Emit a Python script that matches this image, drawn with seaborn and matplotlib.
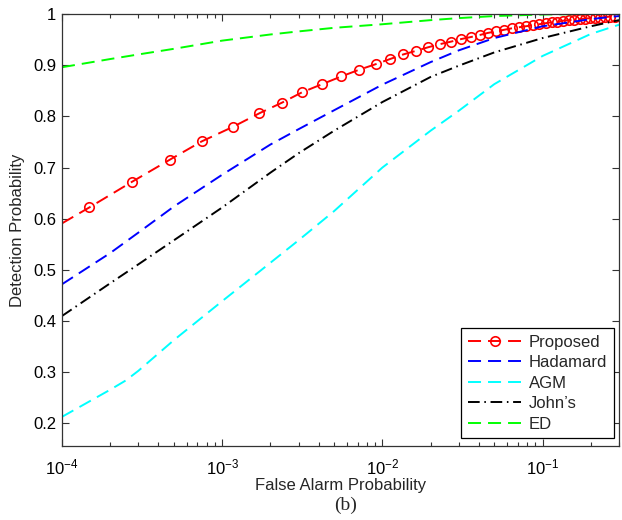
import numpy as np
import pandas as pd
import matplotlib
matplotlib.use("Agg")
import matplotlib.pyplot as plt
import seaborn as sns

# ---------------- data ----------------
pfa_grid = [1e-4, 2e-4, 3e-4, 5e-4, 1e-3, 2e-3, 3e-3, 5e-3, 1e-2, 2e-2, 3e-2, 5e-2, 1e-1, 2e-1, 3e-1]
pd_hadamard = [0.472, 0.533, 0.573, 0.624, 0.686, 0.745, 0.775, 0.812, 0.862, 0.906, 0.929, 0.953, 0.976, 0.990, 0.996]
pd_johns = [0.410, 0.474, 0.511, 0.558, 0.622, 0.690, 0.728, 0.772, 0.828, 0.877, 0.899, 0.925, 0.953, 0.976, 0.988]
pd_ed = [0.896, 0.912, 0.921, 0.932, 0.948, 0.960, 0.966, 0.973, 0.980, 0.988, 0.992, 0.996, 0.999, 1.0, 1.0]

pfa_agm = [1e-4, 2e-4, 2.5e-4, 3e-4, 5e-4, 1e-3, 2e-3, 3e-3, 5e-3, 1e-2, 2e-2, 3e-2, 5e-2, 1e-1, 2e-1, 3e-1]
pd_agm = [0.213, 0.266, 0.284, 0.303, 0.363, 0.439, 0.514, 0.558, 0.615, 0.700, 0.772, 0.811, 0.863, 0.918, 0.961, 0.979]

pfa_prop = [1.0e-4, 1.48e-4, 2.73e-4, 4.69e-4, 7.44e-4, 1.175e-3, 1.705e-3, 2.37e-3, 3.15e-3, 4.21e-3,
            5.54e-3, 7.14e-3, 9.09e-3, 0.01116, 0.0135, 0.0162, 0.0193, 0.0228, 0.0268, 0.0310,
            0.0357, 0.0406, 0.0455, 0.0511, 0.0572, 0.0642, 0.0709, 0.0784, 0.0867, 0.0951,
            0.1044, 0.1137, 0.1239, 0.1350, 0.1461, 0.1580, 0.1710, 0.1850, 0.1987, 0.2134,
            0.2292, 0.2462, 0.2645, 0.2840]
pd_prop = [0.591, 0.622, 0.672, 0.715, 0.751, 0.780, 0.806, 0.827, 0.847, 0.863,
           0.878, 0.891, 0.902, 0.912, 0.921, 0.928, 0.935, 0.941, 0.946, 0.951,
           0.955, 0.959, 0.963, 0.966, 0.969, 0.972, 0.974, 0.976, 0.978, 0.980,
           0.982, 0.984, 0.985, 0.987, 0.988, 0.989, 0.990, 0.991, 0.992, 0.993,
           0.993, 0.994, 0.995, 0.995]

labels = ["Proposed", "Hadamard", "AGM", "John\u2019s", "ED"]
x_ticks = [1e-4, 1e-3, 1e-2, 1e-1]
x_tick_labels = ["$\\mathregular{10^{-4}}$", "$\\mathregular{10^{-3}}$",
                 "$\\mathregular{10^{-2}}$", "$\\mathregular{10^{-1}}$"]
y_ticks = [0.2, 0.3, 0.4, 0.5, 0.6, 0.7, 0.8, 0.9, 1.0]
y_tick_labels = ["0.2", "0.3", "0.4", "0.5", "0.6", "0.7", "0.8", "0.9", "1"]

# ---------------- style ----------------
sns.set_style("white")
plt.rcParams["font.family"] = ["Liberation Sans", "DejaVu Sans"]
plt.rcParams["mathtext.fontset"] = "custom"
plt.rcParams["mathtext.rm"] = "Liberation Sans"
plt.rcParams["mathtext.it"] = "Liberation Sans:italic"
plt.rcParams["mathtext.bf"] = "Liberation Sans:bold"

fig = plt.figure(figsize=(6.22, 5.20), dpi=100)
ax = fig.add_axes([62 / 622, 1 - 446 / 520, (619 - 62) / 622, (446 - 14) / 520])
ax.set_xscale("log")

lw = 1.4
dash = (6.7, 3.6)
dashdot = (6.0, 2.4, 0.8, 2.4)

df_prop = pd.DataFrame({"x": pfa_prop, "y": pd_prop})
sns.lineplot(data=df_prop, x="x", y="y", ax=ax, color="#ff0000", lw=lw, label=labels[0],
             estimator=None, sort=False, marker="o", markevery=list(range(1, len(pfa_prop))),
             markersize=6.8, markerfacecolor="none", markeredgecolor="#ff0000", markeredgewidth=1.2)
ax.lines[-1].set_dashes(dash)

df_had = pd.DataFrame({"x": pfa_grid, "y": pd_hadamard})
sns.lineplot(data=df_had, x="x", y="y", ax=ax, color="#0000ff", lw=lw, label=labels[1],
             estimator=None, sort=False)
ax.lines[-1].set_dashes(dash)

df_agm = pd.DataFrame({"x": pfa_agm, "y": pd_agm})
sns.lineplot(data=df_agm, x="x", y="y", ax=ax, color="#00ffff", lw=lw, label=labels[2],
             estimator=None, sort=False)
ax.lines[-1].set_dashes(dash)

df_john = pd.DataFrame({"x": pfa_grid, "y": pd_johns})
sns.lineplot(data=df_john, x="x", y="y", ax=ax, color="#000000", lw=lw, label=labels[3],
             estimator=None, sort=False)
ax.lines[-1].set_dashes(dashdot)

df_ed = pd.DataFrame({"x": pfa_grid, "y": pd_ed})
sns.lineplot(data=df_ed, x="x", y="y", ax=ax, color="#00ff00", lw=lw, label=labels[4],
             estimator=None, sort=False)
ax.lines[-1].set_dashes(dash)

ax.set_xlim(1e-4, 0.3)
ax.set_ylim(0.156, 1.0)
ax.set_xticks(x_ticks)
ax.set_xticklabels(x_tick_labels)
ax.set_yticks(y_ticks)
ax.set_yticklabels(y_tick_labels)
ax.xaxis.set_minor_locator(matplotlib.ticker.LogLocator(base=10, subs=np.arange(2, 10)))
ax.xaxis.set_minor_formatter(matplotlib.ticker.NullFormatter())

for s in ax.spines.values():
    s.set_visible(True)
    s.set_color("#333333")
    s.set_linewidth(0.9)
ax.tick_params(which="both", direction="in", top=True, right=True, bottom=True, left=True,
               colors="#333333", labelcolor="black", labelsize=12, width=0.8)
ax.tick_params(which="major", length=5)
ax.tick_params(axis="x", which="major", pad=8)
ax.tick_params(axis="y", which="major", pad=4)
ax.tick_params(which="minor", length=3)

ax.set_xlabel("False Alarm Probability", fontsize=12, labelpad=1)
ax.set_ylabel("Detection Probability", fontsize=12, labelpad=6)

leg = ax.legend(loc="lower right", bbox_to_anchor=(0.991, 0.018), borderaxespad=0,
                fontsize=12, frameon=True, fancybox=False, edgecolor="black",
                handlelength=3.2, handletextpad=0.45, labelspacing=0.33,
                borderpad=0.4, framealpha=1)
leg.get_frame().set_linewidth(0.9)

fig.text(346 / 622, 1 - 505 / 520, "(b)", family=["Liberation Serif", "DejaVu Serif"],
         fontsize=14, ha="center", va="center")

fig.savefig("out.png", dpi=100, facecolor="white")
